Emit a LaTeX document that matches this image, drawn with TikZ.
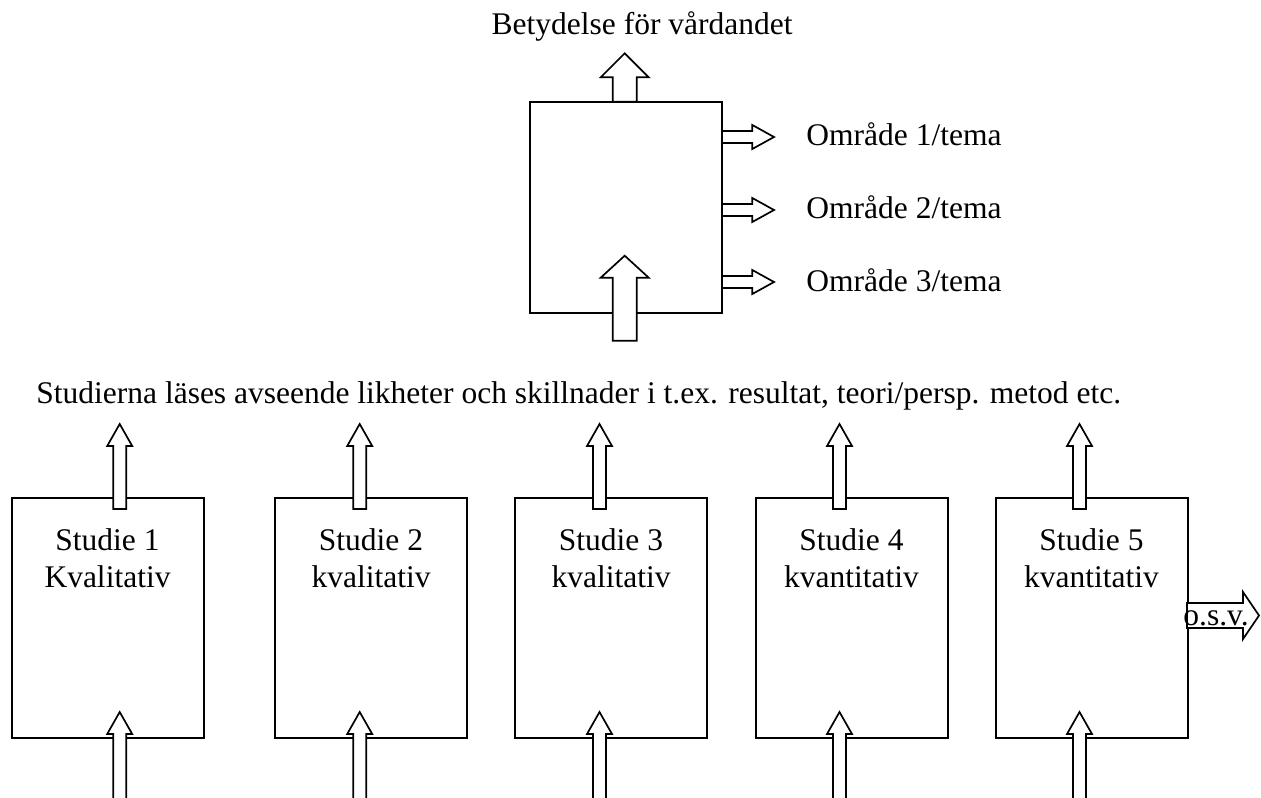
\documentclass[tikz,border=0pt]{standalone}
\usepackage{fontspec}
\setmainfont{Liberation Serif}
\usetikzlibrary{positioning}
\tikzstyle{studybox}=[draw,line width=1pt,minimum width=96pt,minimum height=120pt,inner sep=0pt]
\tikzstyle{blockarrow}=[draw,fill=white,line width=0.85pt,line join=miter]
\tikzstyle{lbl}=[inner sep=0pt,font=\fontsize{15.75}{18.5}\selectfont]

% hollow block arrow, pointing up: x, tip y, head base y, tail y, half head, half shaft
\newcommand{\blockup}[6]{%
  \path[blockarrow] (#1,#2) -- (#1+#5,#3) -- (#1+#6,#3) -- (#1+#6,#4) -- (#1-#6,#4) -- (#1-#6,#3) -- (#1-#5,#3) -- cycle;}
% same, pointing right: y, tip x, head base x, tail x, half head, half shaft
\newcommand{\blockright}[6]{%
  \path[blockarrow] (#2,#1) -- (#3,#1+#5) -- (#3,#1+#6) -- (#4,#1+#6) -- (#4,#1-#6) -- (#3,#1-#6) -- (#3,#1-#5) -- cycle;}

\begin{document}
\begin{tikzpicture}[x=0.5pt,y=-0.5pt]
    \useasboundingbox (0,0) rectangle (1261,797);

    % synthesis box
    \node[studybox, minimum height=105.5pt] (synth) at (626,207.2) {};
    \blockup{624.7}{53.3}{77.3}{101.7}{24}{12}
    \blockup{624.7}{255.7}{277.7}{340.7}{24}{12}
    \node[lbl, anchor=base east] (meaning) at (793,35) {Betydelse för vårdandet};

    \foreach \y/\b/\n in {137/145/1, 210/218/2, 282/291/3} {
        \blockright{\y}{774}{752.3}{722}{12}{6}
        \node[lbl, anchor=base west] (omr\n) at (806,\b) {Område \n/tema};
    }

    \node[lbl, anchor=base west] (reading) at (36,403) {Studierna läses avseende likheter och skillnader i t.ex. resultat, teori/persp. metod etc.};

    % the studies
    \foreach \cx/\ax/\n/\kind in {107.5/119.7/1/Kvalitativ, 371/359.7/2/kvalitativ, 611/599.5/3/kvalitativ, 851.5/839.5/4/kvantitativ, 1091.5/1079.5/5/kvantitativ} {
        \node[studybox] (S\n) at (\cx,618) {};
        \blockup{\ax}{424}{446}{509}{12.5}{6.5}
        \blockup{\ax}{712}{734}{800}{12.5}{6.5}
        \node[lbl, align=center, anchor=north] (T\n) at (\cx,528.5) {Studie \n\\\kind};
    }

    \blockright{615.5}{1259}{1243}{1187}{23.5}{12.5}
    \node[lbl, anchor=base west] (osv) at (1183,625) {o.s.v.};
\end{tikzpicture}
\end{document}
